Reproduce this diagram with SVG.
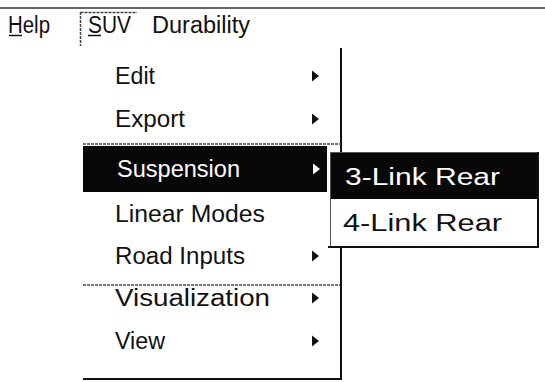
<svg xmlns="http://www.w3.org/2000/svg" width="545" height="382" viewBox="0 0 545 382">
  <style>
    .t { font-family: "Liberation Sans", Arial, sans-serif; font-size: 23px; fill: #111; }
    .inv { fill: #fff; }
    .sep { stroke: #444; stroke-width: 1.5; stroke-dasharray: 3 1; fill: none; }
    .edge { stroke: #111; stroke-width: 2; fill: none; }
    .hl { fill: #080808; }
    .arrow { fill: #111; }
    .arrow.inv { fill: #fff; }
  </style>
  <defs>
    <path id="tri" d="M0,-5.5 L7,0 L0,5.5 Z"/>
  </defs>

  <rect width="545" height="382" fill="#fff"/>

  <!-- window edge above the menu bar -->
  <line x1="0" y1="8" x2="545" y2="8" stroke="#333" stroke-width="1.5"/>

  <!-- menu bar -->
  <g id="menubar">
    <text class="t" x="8" y="33" textLength="42" lengthAdjust="spacingAndGlyphs">Help</text>
    <line x1="9" y1="35.5" x2="22" y2="35.5" stroke="#111" stroke-width="1.5"/>
    <path class="sep" d="M80.5,12 V46 M80.5,12.5 H137" stroke-width="1" stroke-dasharray="1 1"/>
    <text class="t" x="88" y="33" textLength="43" lengthAdjust="spacingAndGlyphs">SUV</text>
    <line x1="88" y1="35.5" x2="101" y2="35.5" stroke="#111" stroke-width="1.5"/>
    <text class="t" x="152" y="33" textLength="98" lengthAdjust="spacingAndGlyphs">Durability</text>
  </g>

  <!-- pull-down menu -->
  <g id="menu">
    <path class="edge" d="M341,48 V379 H83"/>
    <line class="sep" x1="83" y1="144" x2="341" y2="144"/>
    <line class="sep" x1="83" y1="285" x2="340" y2="285"/>
    <rect class="hl" x="83" y="146" width="244" height="46"/>
  </g>

  <g id="item-edit">
    <text class="t" x="115" y="84" textLength="40" lengthAdjust="spacingAndGlyphs">Edit</text>
    <use href="#tri" class="arrow" x="312" y="76"/>
  </g>
  <g id="item-export">
    <text class="t" x="115" y="127" textLength="70" lengthAdjust="spacingAndGlyphs">Export</text>
    <use href="#tri" class="arrow" x="312" y="119"/>
  </g>
  <g id="item-suspension">
    <text class="t inv" x="117" y="177" textLength="123" lengthAdjust="spacingAndGlyphs">Suspension</text>
    <use href="#tri" class="arrow inv" x="313" y="169"/>
  </g>
  <g id="item-linear-modes">
    <text class="t" x="115" y="222" textLength="150" lengthAdjust="spacingAndGlyphs">Linear Modes</text>
  </g>
  <g id="item-road-inputs">
    <text class="t" x="115" y="264" textLength="130" lengthAdjust="spacingAndGlyphs">Road Inputs</text>
    <use href="#tri" class="arrow" x="312" y="256"/>
  </g>
  <g id="item-visualization">
    <text class="t" x="115" y="306" textLength="155" lengthAdjust="spacingAndGlyphs">Visualization</text>
    <use href="#tri" class="arrow" x="312" y="298"/>
  </g>
  <g id="item-view">
    <text class="t" x="115" y="349" textLength="50" lengthAdjust="spacingAndGlyphs">View</text>
    <use href="#tri" class="arrow" x="312" y="341"/>
  </g>

  <!-- cascade submenu -->
  <g id="submenu">
    <rect x="330.5" y="152.5" width="207" height="94" fill="#fff" stroke="#555" stroke-width="1"/>
    <path class="edge" d="M538,152 V247 H328"/>
    <rect class="hl" x="331" y="153" width="206" height="46"/>
    <g id="item-3link">
      <text class="t inv" x="345" y="185" textLength="155" lengthAdjust="spacingAndGlyphs">3-Link Rear</text>
    </g>
    <g id="item-4link">
      <text class="t" x="343" y="231" textLength="159" lengthAdjust="spacingAndGlyphs">4-Link Rear</text>
    </g>
  </g>
</svg>
